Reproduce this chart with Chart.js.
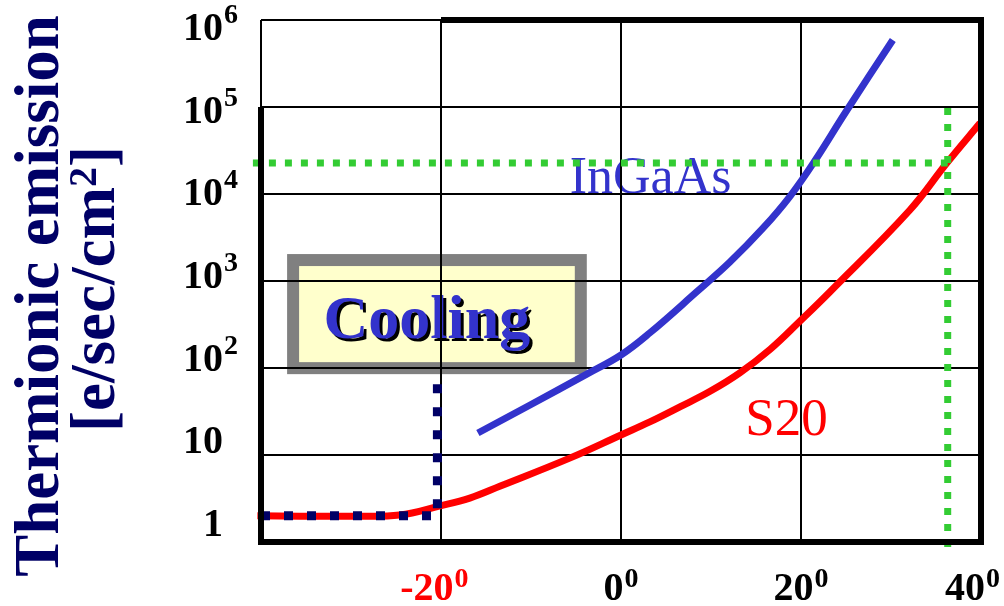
<!DOCTYPE html>
<html>
<head>
<meta charset="utf-8">
<title>Thermionic emission vs temperature</title>
<script src="https://cdn.jsdelivr.net/npm/chart.js@4.4.1/dist/chart.umd.min.js"></script>
<style>
  body { margin: 0; background: #fff; }
  #wrap { width: 1004px; height: 606px; }
</style>
</head>
<body>
<div id="wrap"><canvas id="emission" width="1004" height="606"></canvas></div>
<script>
const SERIF = '"Liberation Serif", "Times New Roman", serif'

// S20 photocathode, e/sec/cm2 against temperature (deg C)
const s20Temp = [-40.4, -35.7, -30.1, -24.6, -20.1, -16.8, -13.4, -5.7, 0, 3.2, 6.6, 9.9, 13.2, 16.6, 19.9, 23.2, 32.1, 36.2, 39.9]
const s20Rate = [2.0, 1.98, 1.98, 2.04, 2.6, 3.2, 4.4, 9.2, 17, 24, 36, 54, 88, 165, 347, 748, 6550, 22700, 65500]

// InGaAs
const ingaasTemp = [-15.9, -10.1, -3.8, 0, 3.2, 8.4, 12.1, 15.8, 18.8, 21.6, 24.9, 30.2]
const ingaasRate = [17.9, 37.6, 85, 141, 253, 748, 1650, 4070, 9480, 24600, 85300, 589000]

// cooled operating point
const coolTemp = [-40, -20.4, -20.4]
const coolRate = [2, 2, 88]

// reference level at room temperature
const refTemp = [-40.9, 36.3]
const refRate = [22700, 22700]
const refDropTemp = [36.3, 36.3]
const refDropRate = [97500, 0.85]

// axis ticks
const xTicks = [-20, 0, 20, 40]
const xTickColors = ['#ff0000', '#000000', '#000000', '#000000']
const yTicks = [1, 10, 1e2, 1e3, 1e4, 1e5, 1e6]
const yTickBase = ['1', '10', '10', '10', '10', '10', '10']
const yTickExp = ['', '', '2', '3', '4', '5', '6']

const pts = (xs, ys) => xs.map((x, i) => ({ x: x, y: ys[i] }))

// annotation placement, in data units
const coolingBox = { left: -37.1, right: -3.8, top: 2040, bottom: 85 }
const ingaasLabel = { x: -5.7, y: 10260 }
const s20Label = { x: 13.8, y: 17 }

function drawPower(ctx, base, exp, px, py, align, color) {
  ctx.font = 'bold 40px ' + SERIF
  const wb = ctx.measureText(base).width
  ctx.font = 'bold 28px ' + SERIF
  const we = exp ? ctx.measureText(exp).width + 1 : 0
  let start
  if (align === 'right') {
    start = px - wb
  } else {
    // centre the digits (not the minus sign) on the tick
    ctx.font = 'bold 40px ' + SERIF
    const wMinus = base.startsWith('-') ? ctx.measureText('-').width : 0
    start = px - (wb - wMinus + we) / 2 - wMinus
    start = Math.min(start, ctx.canvas.width - 4 - wb - we)
  }
  ctx.fillStyle = color
  ctx.textAlign = 'left'
  ctx.textBaseline = 'alphabetic'
  ctx.font = 'bold 40px ' + SERIF
  ctx.fillText(base, start, py)
  if (exp) {
    ctx.font = 'bold 28px ' + SERIF
    ctx.fillText(exp, start + wb + 1, py - (align === 'right' ? 17 : 13))
  }
}

const decor = {
  id: 'decor',
  beforeDraw(chart) {
    const { ctx, scales: { x, y } } = chart
    const l = x.getPixelForValue(coolingBox.left)
    const r = x.getPixelForValue(coolingBox.right)
    const t = y.getPixelForValue(coolingBox.top)
    const b = y.getPixelForValue(coolingBox.bottom)
    ctx.save()
    ctx.fillStyle = '#808080'
    ctx.fillRect(l, t, r - l, b - t)
    ctx.fillStyle = '#ffffcc'
    ctx.fillRect(l + 12, t + 12, r - l - 24, b - t - 24)

    ctx.font = 'bold 62px ' + SERIF
    ctx.textAlign = 'center'
    const cx = (l + r) / 2 - 10
    const cy = (t + b) / 2 + 24
    ctx.fillStyle = '#000000'
    ctx.fillText('Cooling', cx + 3, cy + 3)
    ctx.fillStyle = '#3333cc'
    ctx.fillText('Cooling', cx, cy)

    ctx.textAlign = 'left'
    ctx.font = '52px ' + SERIF
    ctx.fillText('InGaAs', x.getPixelForValue(ingaasLabel.x), y.getPixelForValue(ingaasLabel.y))
    ctx.fillStyle = '#ff0000'
    ctx.font = '53px ' + SERIF
    ctx.fillText('S20', x.getPixelForValue(s20Label.x), y.getPixelForValue(s20Label.y))
    ctx.restore()
  },
  afterDraw(chart) {
    const { ctx, chartArea, scales: { x, y, yl } } = chart
    ctx.save()

    // heavy frame
    ctx.strokeStyle = '#000000'
    ctx.lineWidth = 6
    ctx.lineJoin = 'miter'
    ctx.beginPath()
    ctx.moveTo(x.getPixelForValue(-20), chartArea.top)
    ctx.lineTo(chartArea.right, chartArea.top)
    ctx.lineTo(chartArea.right, chartArea.bottom)
    ctx.lineTo(chartArea.left, chartArea.bottom)
    ctx.lineTo(chartArea.left, y.getPixelForValue(1e5))
    ctx.stroke()

    // tick labels
    yTicks.forEach((v, i) => {
      drawPower(ctx, yTickBase[i], yTickExp[i], chartArea.left - 38, yl.getPixelForValue(i), 'right', '#000000')
    })
    xTicks.forEach((v, i) => {
      drawPower(ctx, String(v), '0', x.getPixelForValue(v), chartArea.bottom + 58, 'center', xTickColors[i])
    })

    // y axis title, two lines
    ctx.fillStyle = '#000066'
    ctx.textBaseline = 'alphabetic'
    ctx.save()
    ctx.translate(58, 296)
    ctx.rotate(-Math.PI / 2)
    ctx.textAlign = 'center'
    ctx.font = 'bold 63px ' + SERIF
    ctx.fillText('Thermionic emission', 0, 0)
    ctx.restore()

    ctx.save()
    ctx.translate(114, 289)
    ctx.rotate(-Math.PI / 2)
    ctx.textAlign = 'left'
    const head = '[e/sec/cm'
    ctx.font = 'bold 63px ' + SERIF
    const w1 = ctx.measureText(head).width
    const w3 = ctx.measureText(']').width
    ctx.font = 'bold 40px ' + SERIF
    const w2 = ctx.measureText('2').width
    let u = -(w1 + w2 + w3) / 2
    ctx.font = 'bold 63px ' + SERIF
    ctx.fillText(head, u, 0)
    u += w1
    ctx.font = 'bold 40px ' + SERIF
    ctx.fillText('2', u, -18)
    u += w2
    ctx.font = 'bold 63px ' + SERIF
    ctx.fillText(']', u, 0)
    ctx.restore()

    ctx.restore()
  }
}

new Chart(document.getElementById('emission'), {
  type: 'line',
  data: {
    datasets: [
      {
        label: 'Cooled',
        data: pts(coolTemp, coolRate),
        borderColor: '#000066',
        borderWidth: 9,
        borderDash: [9, 14],
        borderCapStyle: 'butt',
        tension: 0,
        clip: false
      },
      {
        label: 'Reference level',
        data: pts(refTemp, refRate),
        borderColor: '#33cc33',
        borderWidth: 7,
        borderDash: [7, 9],
        borderCapStyle: 'butt',
        tension: 0,
        clip: false
      },
      {
        label: 'Reference temperature',
        data: pts(refDropTemp, refDropRate),
        borderColor: '#33cc33',
        borderWidth: 7,
        borderDash: [7, 9],
        borderCapStyle: 'butt',
        tension: 0,
        clip: false
      },
      {
        label: 'InGaAs',
        data: pts(ingaasTemp, ingaasRate),
        borderColor: '#3333cc',
        borderWidth: 7,
        borderCapStyle: 'butt',
        tension: 0.4,
        clip: false
      },
      {
        label: 'S20',
        data: pts(s20Temp, s20Rate),
        borderColor: '#ff0000',
        borderWidth: 7,
        borderCapStyle: 'butt',
        tension: 0.4,
        clip: false
      }
    ]
  },
  options: {
    responsive: false,
    animation: false,
    devicePixelRatio: 1,
    layout: {
      padding: { left: 261, right: 23, top: 20, bottom: 64 }
    },
    elements: {
      point: { radius: 0 }
    },
    plugins: {
      legend: { display: false },
      tooltip: { enabled: false }
    },
    scales: {
      x: {
        type: 'linear',
        min: -40,
        max: 40,
        ticks: { stepSize: 20, display: false },
        grid: { color: '#000000', lineWidth: 2, drawTicks: false },
        border: { display: false }
      },
      y: {
        type: 'logarithmic',
        min: 1,
        max: 1e6,
        afterBuildTicks: (scale) => {
          scale.ticks = yTicks.map(v => ({ value: v }))
        },
        ticks: { display: false },
        grid: { color: '#000000', lineWidth: 2, drawTicks: false },
        border: { display: false }
      },
      // positions the decade labels, which sit a little off the grid lines
      yl: {
        type: 'linear',
        display: false,
        min: -0.07,
        max: 6.24
      }
    }
  },
  plugins: [decor]
})
</script>
</body>
</html>
